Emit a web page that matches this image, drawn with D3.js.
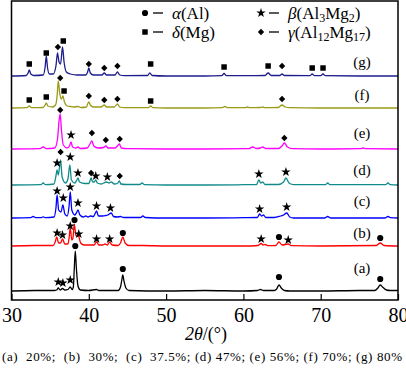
<!DOCTYPE html>
<html><head><meta charset="utf-8">
<script src="https://cdn.jsdelivr.net/npm/d3@7/dist/d3.min.js"></script>
<style>
html,body{margin:0;padding:0;background:#fff;}
svg{display:block;}
svg text{font-family:"Liberation Serif","Times New Roman",serif;}
</style></head>
<body><svg id="chart" width="406" height="369"></svg>
<script>
// ---------- DATA ----------
const xTicks = [30, 40, 50, 60, 70, 80];
const seriesLabels = ["(a)", "(b)", "(c)", "(d)", "(e)", "(f)", "(g)"];
const offsets = [9, 54, 82, 115, 151, 192, 224];   // baseline intensity of each stacked pattern
const caption = "(a)  20%;  (b)  30%;  (c)  37.5%; (d) 47%; (e) 56%; (f) 70%; (g) 80%";

// patterns: [2theta, intensity above baseline]
const patternA = [[30,0],[33,0.5],[35.5,0.5],[35.85,1],[36.05,3],[36.3,1],[36.6,2.5],[36.9,1],[37.3,1.5],[37.6,4],[37.85,1.5],[38.0,4],[38.12,22],[38.25,40],[38.4,22],[38.6,5],[38.9,1],[40,0.5],[41,1.5],[41.3,0.5],[43.8,0.5],[44.1,4],[44.25,10],[44.4,16],[44.55,10],[44.8,3],[45.2,0.5],[50,0],[55,0.5],[60,0],[61.8,0.5],[62.2,1.5],[62.6,0.5],[64.0,0.5],[64.3,2],[64.6,6],[64.9,3],[65.3,0.5],[66,0],[70,0],[75,0.5],[77.0,0.5],[77.4,3],[77.7,6],[78.0,4],[78.5,1],[79,0.5],[80,0.5]];
const patternB = [[30,0],[33,0.5],[35.4,0.5],[35.65,4],[35.85,9],[36.1,3],[36.35,3],[36.6,7],[36.9,2],[37.3,2],[37.45,8],[37.6,18],[37.8,6],[37.95,8],[38.12,22],[38.35,10],[38.65,10],[38.95,3],[39.4,1],[40.0,1],[40.7,1],[41.0,4],[41.3,1],[41.8,1],[42.1,2],[42.4,1],[42.7,4],[43.0,1],[43.8,0.5],[44.1,3],[44.4,9],[44.7,3],[45.2,0.5],[47,0.5],[50,0],[55,0],[60,0],[61.9,0.5],[62.3,2.5],[62.55,1],[62.8,1.5],[63.2,0.3],[64.2,0.5],[64.6,4],[65.0,1],[65.8,2],[66.2,0.3],[70,0],[77.2,0.5],[77.7,3],[78.2,0.5],[80,0]];
const patternC = [[30,0],[32.5,0.3],[32.8,1.5],[33.1,0.3],[33.8,0.3],[34.1,1.2],[34.4,0.3],[35.5,1],[35.75,10],[35.9,23],[36.1,8],[36.4,6],[36.65,13],[36.9,4],[37.2,2],[37.45,12],[37.6,26],[37.8,8],[38.2,3],[38.45,6],[38.6,8],[38.85,3],[39.3,1],[39.6,2],[39.9,1],[40.2,2],[40.6,1.5],[40.85,5],[41.0,7],[41.25,2],[41.8,2],[42.2,2.5],[42.45,3],[42.65,4],[42.9,5],[43.2,1.5],[43.7,1],[44.1,1.5],[44.5,0.5],[46.7,0.5],[47,2],[47.3,0.5],[50,0],[55,0],[60,0.3],[61.8,0.5],[62.1,4],[62.35,2],[62.6,3],[62.9,0.5],[64,0.5],[64.8,2],[65.2,3],[65.6,5],[66.0,1],[66.5,0],[70.5,0],[70.9,1.5],[71.3,0],[78.3,0],[78.7,1.5],[79,0.3],[80,0]];
const patternD = [[30,0],[33.8,0.3],[34.1,2],[34.4,0.3],[35.5,1],[35.75,9],[35.9,15],[36.05,10],[36.15,14],[36.35,25],[36.55,8],[37.0,2],[37.3,6],[37.55,20],[37.75,5],[38.2,2],[38.45,5],[38.6,7],[38.8,3],[39.5,1.5],[40.0,1.5],[40.15,4],[40.3,7],[40.5,3],[40.7,3],[40.9,5],[41.1,2],[41.6,1],[42.3,3],[42.6,2],[42.9,3],[43.3,1],[43.7,1.5],[43.95,4],[44.15,1],[44.8,0.5],[46.6,0.5],[46.9,2],[47.2,0.3],[50,0],[55,0],[60,0.3],[61.7,0.5],[62.0,5],[62.25,2],[62.5,3],[62.8,0.5],[64.5,0.5],[65.2,3],[65.5,7],[65.9,2],[66.5,0.3],[70.6,0.3],[70.9,2],[71.2,0.3],[78.4,0.3],[78.7,2],[79,0.3],[80,0]];
const patternE = [[30,0],[33.7,0.3],[34.1,2],[34.5,0.3],[35.6,1],[35.95,10],[36.15,28],[36.3,35],[36.45,20],[36.7,4],[37.2,1],[37.5,3],[37.7,7],[37.9,2],[38.3,1],[38.6,2],[38.9,0.5],[39.8,1],[40.15,5],[40.4,8],[40.65,3],[41.2,1],[41.9,1.5],[42.2,3],[42.5,1],[43.4,1],[43.7,3],[43.95,5],[44.2,1],[45,0.3],[50,0],[55,0],[60.7,0.3],[61.2,2],[61.7,0.5],[62.2,1],[62.5,2],[62.9,0.5],[64.5,0.5],[65.0,3],[65.3,6],[65.7,2],[66.3,0.3],[70,0],[75.2,0.3],[75.5,1],[75.8,0.3],[80,0]];
const patternF = [[30,0],[32.0,0.3],[32.3,2],[32.6,0.3],[34.1,0.5],[34.35,3],[34.5,5],[34.7,2],[35.3,1],[35.7,3],[35.9,12],[36.05,27],[36.25,14],[36.45,9],[36.65,12],[36.85,6],[37.2,2],[37.6,1.5],[38.0,1],[38.6,1.5],[39.0,0.5],[39.7,1],[39.85,4],[40.0,6],[40.2,3],[40.6,1],[41.6,1],[42.0,3],[42.3,1],[43.3,1],[43.7,4],[44.0,1],[44.6,0.3],[47.7,0.3],[48.0,2],[48.3,0.3],[50,0],[55,0],[57.3,0.3],[57.6,1.5],[57.9,0.3],[60.2,0.3],[60.5,1],[60.8,0.3],[62.2,0.5],[62.5,1],[62.8,0.3],[64.5,0.5],[65.0,3],[65.4,1],[66,0.3],[70,0],[75,0],[80,0]];
const patternG = [[30,0],[31.9,0.5],[32.15,3],[32.3,6],[32.5,2],[32.9,0.5],[34.1,1],[34.35,9],[34.5,20],[34.65,9],[34.9,2],[35.4,2],[35.75,10],[35.95,23],[36.15,14],[36.35,12],[36.6,29],[36.8,14],[37.1,4],[37.6,2],[38.5,1],[39.6,1],[39.85,4],[40.0,8],[40.2,3],[40.6,1],[41.7,1],[42.0,3],[42.3,1],[43.4,1],[43.7,4],[44.0,1],[44.6,0.3],[47.6,0.5],[47.9,3],[48.2,0.5],[50,0],[55,0],[57.2,0.3],[57.5,2.5],[57.8,0.3],[62.8,0.5],[63.2,3],[63.6,0.5],[64.7,0.5],[65.0,2],[65.3,0.5],[68.6,0.3],[68.9,2],[69.2,0.3],[70.0,0.3],[70.3,2],[70.6,0.3],[75,0],[80,0]];
const patterns = [patternA, patternB, patternC, patternD, patternE, patternF, patternG];

// phase markers: [2theta, level above baseline, phase]
const markersA = [[36.05,9,"beta"],[36.65,8,"beta"],[37.6,11,"beta"],[38.25,45,"alpha"],[44.4,22,"alpha"],[64.6,14,"alpha"],[77.7,12,"alpha"]];
const markersB = [[35.9,13,"beta"],[36.6,11,"beta"],[37.6,20,"beta"],[38.15,26,"alpha"],[38.7,12,"beta"],[41.0,7,"beta"],[42.7,7,"beta"],[44.4,13,"alpha"],[62.3,7,"beta"],[64.6,9,"alpha"],[65.8,6,"beta"],[77.7,8,"alpha"]];
const markersC = [[35.9,27,"beta"],[36.7,20,"beta"],[37.6,31,"beta"],[38.6,15,"beta"],[41.0,12,"beta"],[42.8,10,"beta"],[62.1,9,"beta"],[65.6,11,"beta"]];
const markersD = [[35.9,22,"beta"],[36.35,33,"gamma"],[37.6,28,"beta"],[38.6,12,"beta"],[40.3,12,"gamma"],[40.9,9,"beta"],[42.4,8,"beta"],[44.0,9,"gamma"],[62.0,11,"beta"],[65.5,13,"beta"]];
const markersE = [[36.3,39,"gamma"],[37.7,14,"beta"],[40.4,16,"gamma"],[42.2,9,"gamma"],[44.0,10,"gamma"],[65.3,11,"gamma"]];
const markersF = [[32.3,8,"delta"],[34.5,11,"delta"],[36.3,30,"gamma"],[36.8,17,"delta"],[40.0,12,"gamma"],[42.0,8,"gamma"],[43.7,9,"gamma"],[48.0,7,"delta"],[65.0,9,"gamma"]];
const markersG = [[32.3,12,"delta"],[34.5,23,"delta"],[36.0,29,"gamma"],[36.7,35,"delta"],[40.0,12,"gamma"],[42.0,8,"gamma"],[43.7,10,"gamma"],[48.0,12,"delta"],[57.5,9,"delta"],[63.2,10,"delta"],[65.0,10,"gamma"],[68.9,8,"delta"],[70.3,8,"delta"]];
const markers = [markersA, markersB, markersC, markersD, markersE, markersF, markersG];

// ---------- STYLE / LAYOUT ----------
const colors = ["#000000", "#ff0000", "#0000ff", "#128a8a", "#ff00ff", "#9a9a18", "#1c1c8c"];
const labelLift = [23, 13, 17, 15, 16, 13, 14];
const plot = {left: 11.5, right: 398, top: 1, bottom: 300};

const svg = d3.select("#chart");
const x = d3.scaleLinear().domain([30, 80]).range([plot.left, plot.right]);
const y = d3.scaleLinear().domain([0, 299]).range([plot.bottom, plot.top]);

const symType = {
  alpha: {type: d3.symbolCircle, size: 30, rot: 0},
  delta: {type: d3.symbolSquare, size: 30, rot: 0},
  beta: {type: d3.symbolStar, size: 28, rot: 0},
  gamma: {type: d3.symbolSquare, size: 20, rot: 45}
};
function sym(g, phase, cx, cy) {
  const s = symType[phase];
  g.append("path").attr("d", d3.symbol().type(s.type).size(s.size)())
    .attr("transform", `translate(${cx},${cy}) rotate(${s.rot})`).attr("fill", "#000");
}

const line = d3.line().curve(d3.curveMonotoneX);
patterns.forEach((pat, i) => {
  svg.append("path")
    .attr("d", line(pat.map(d => [x(d[0]), y(d[1] + offsets[i])])))
    .attr("fill", "none").attr("stroke", colors[i]).attr("stroke-width", 1.3)
    .attr("stroke-linejoin", "round");
  const mg = svg.append("g");
  markers[i].forEach(m => sym(mg, m[2], x(m[0]), y(m[1] + offsets[i])));
  svg.append("text").attr("x", 362).attr("y", y(offsets[i]) - labelLift[i])
    .attr("text-anchor", "middle").attr("dominant-baseline", "central")
    .attr("font-size", 15).text(seriesLabels[i]);
});

// frame
svg.append("rect").attr("x", plot.left).attr("y", plot.top)
  .attr("width", plot.right - plot.left).attr("height", plot.bottom - plot.top)
  .attr("fill", "none").attr("stroke", "#000").attr("stroke-width", 1.5);

// x axis
const ax = svg.append("g").attr("transform", `translate(0,${plot.bottom})`)
  .call(d3.axisBottom(x).tickValues(xTicks).tickSizeInner(-6).tickSizeOuter(0).tickPadding(8).tickFormat(d3.format("d")));
ax.select(".domain").remove();
ax.selectAll("line").attr("stroke", "#000").attr("stroke-width", 1.2);
ax.selectAll("text").attr("font-size", 20).attr("fill", "#000");

// axis title
const t = svg.append("text").attr("x", 206).attr("y", 340).attr("text-anchor", "middle").attr("font-size", 18);
t.append("tspan").attr("font-style", "italic").text("2θ");
t.append("tspan").text("/(°)");

// caption
svg.append("text").attr("x", 2).attr("y", 361).attr("font-size", 13)
  .attr("textLength", 400).attr("lengthAdjust", "spacing")
  .style("white-space", "pre").text(caption);

// legend
const leg = svg.append("g").attr("font-size", 17);
function legendItem(cx, cy, phase, parts) {
  sym(leg, phase, cx, cy);
  leg.append("line").attr("x1", cx + 8).attr("x2", cx + 18).attr("y1", cy).attr("y2", cy).attr("stroke", "#000").attr("stroke-width", 1.3);
  const tx = leg.append("text").attr("x", cx + 27).attr("y", cy + 5.5);
  parts.forEach(p => {
    const ts = tx.append("tspan").text(p.t);
    if (p.i) ts.attr("font-style", "italic");
    if (p.sub) ts.attr("font-size", 12).attr("dy", 3);
    if (p.up) ts.attr("dy", -3);
  });
}
legendItem(145, 13, "alpha", [{t: "α", i: true}, {t: "(Al)"}]);
legendItem(145, 32, "delta", [{t: "δ", i: true}, {t: "(Mg)"}]);
legendItem(261, 13, "beta", [{t: "β", i: true}, {t: "(Al"}, {t: "3", sub: true}, {t: "Mg", up: true}, {t: "2", sub: true}, {t: ")", up: true}]);
legendItem(261, 32, "gamma", [{t: "γ", i: true}, {t: "(Al"}, {t: "12", sub: true}, {t: "Mg", up: true}, {t: "17", sub: true}, {t: ")", up: true}]);
</script></body></html>
